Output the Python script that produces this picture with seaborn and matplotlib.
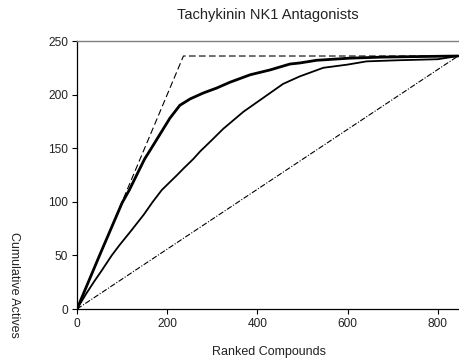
import matplotlib
matplotlib.use("Agg")
import matplotlib.pyplot as plt
import seaborn as sns
import pandas as pd

# Data
best_x = [0, 50, 100, 116, 130, 150, 162, 184, 206, 228, 251, 280, 309, 339, 384, 428, 472, 494, 531, 605, 680, 760, 845]
best_y = [0, 50, 99, 111, 123, 140, 148, 163, 178, 190, 196, 201.5, 206, 211.5, 218.5, 223, 228.5, 229.5, 232, 234, 235, 235.5, 236]
other_x = [0, 20, 37, 55, 77, 95, 120, 148, 168, 188, 222, 236, 258, 273, 300, 324, 369, 413, 457, 494, 546, 600, 642, 709, 800, 845]
other_y = [0, 14, 25, 36, 50, 60, 73, 88, 100, 111, 125, 131, 140, 147, 158, 168, 184, 197, 210, 217, 225, 228, 231, 232, 233, 236]
ideal_x = [0, 236, 845]
ideal_y = [0, 236, 236]
random_x = [0, 845]
random_y = [0, 236]

title = "Tachykinin NK1 Antagonists"
xlabel = "Ranked Compounds"
ylabel = "Cumulative Actives"
xticks = [0, 200, 400, 600, 800]
yticks = [0, 50, 100, 150, 200, 250]

sns.set_style("ticks")
plt.rcParams['font.family'] = ['Liberation Sans', 'DejaVu Sans']

fig = plt.figure(figsize=(4.59, 3.64), dpi=100)
ax = fig.add_axes([77/459, 1 - 309/364, 1 - 77/459, (309 - 41)/364])

sns.lineplot(x=ideal_x, y=ideal_y, ax=ax, color="black", lw=0.8,
             linestyle=(0, (6, 3)), estimator=None, sort=False)
sns.lineplot(x=random_x, y=random_y, ax=ax, color="black", lw=0.8,
             linestyle=(0, (5, 1.5, 1, 1.5)), estimator=None, sort=False)
sns.lineplot(x=other_x, y=other_y, ax=ax, color="black", lw=1.3, estimator=None, sort=False)
sns.lineplot(x=best_x, y=best_y, ax=ax, color="black", lw=2.0, estimator=None, sort=False)

ax.set_xlim(0, 847)
ax.set_ylim(0, 250)
ax.set_xticks(xticks)
ax.set_yticks(yticks)
ax.tick_params(axis='both', labelsize=8.6, length=3.5, width=0.8, pad=3, color="black",
               labelcolor="#222222")
for s in ["left", "bottom"]:
    ax.spines[s].set_color("black")
    ax.spines[s].set_linewidth(0.9)
ax.spines["top"].set_color("#808080")
ax.spines["top"].set_linewidth(1.0)
ax.spines["right"].set_visible(False)
ax.set_xlabel("")
ax.set_ylabel("")

fig.text(268/459, 1 - 15/364, title, ha="center", va="center", fontsize=10.5, color="#222222")
fig.text(269/459, 1 - 352/364, xlabel, ha="center", va="center", fontsize=9, color="#222222")
fig.text(14/459, 1 - 285/364, ylabel, ha="center", va="center", rotation=270, fontsize=9,
         color="#222222")

fig.savefig("out.png", dpi=100)
